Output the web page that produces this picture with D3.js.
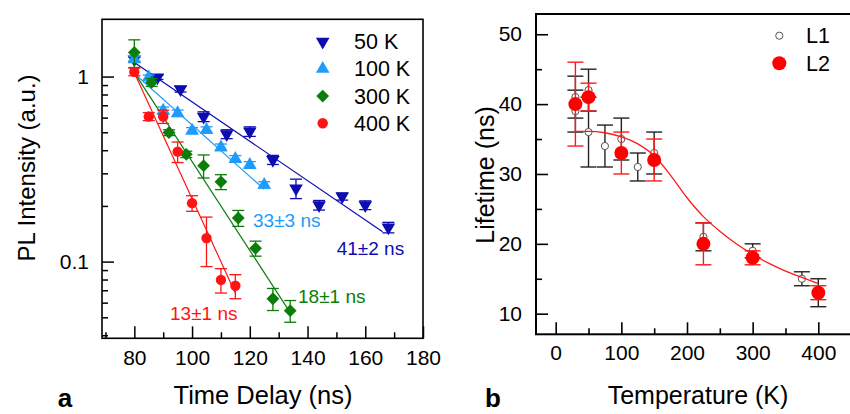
<!DOCTYPE html>
<html><head><meta charset="utf-8">
<script src="https://cdn.jsdelivr.net/npm/d3@7"></script>
<style>body{margin:0;background:#fff}svg{display:block;font-family:Arial,"Liberation Sans",sans-serif}</style>
</head><body><svg id="c" width="850" height="414"></svg>
<script>
// ---------- Panel a data ----------
const seriesNames = ["50 K", "100 K", "300 K", "400 K"];
const t50  = [80, 88, 96, 104, 112, 120, 128, 136, 144, 152, 160, 168];
const pl50 = [1.24, 0.99, 0.855, 0.608, 0.489, 0.505, 0.355, 0.249, 0.202, 0.225, 0.202, 0.153];
const e50  = [0.03, 0.025, 0.03, 0.037, 0.027, 0.03, 0.02, 0.03, 0.012, 0.01, 0.011, 0.01];
const t100  = [80, 85, 90, 95, 100, 105, 110, 115, 120, 125];
const pl100 = [1.24, 0.99, 0.655, 0.634, 0.51, 0.515, 0.415, 0.359, 0.333, 0.26];
const e100  = [0.04, 0.03, 0.03, 0.025, 0.02, 0.02, 0.017, 0.015, 0.014, 0.01];
const t300  = [80, 86, 92, 98, 104, 110, 116, 122, 128, 134];
const pl300 = [1.35, 0.93, 0.498, 0.38, 0.33, 0.27, 0.172, 0.118, 0.063, 0.0543];
const e300  = [0.23, 0.045, 0.018, 0.015, 0.047, 0.025, 0.017, 0.011, 0.0086, 0.0073];
const t400  = [80, 85, 90, 95, 100, 105, 110, 115];
const pl400 = [1.06, 0.608, 0.608, 0.393, 0.207, 0.134, 0.0796, 0.074];
const e400  = [0.05, 0.03, 0.05, 0.05, 0.02, 0.04, 0.012, 0.011];
// fitted decay lines: [start, end] points
const fitT  = [[80, 166], [80, 125], [80, 134.5], [80, 115]];
const fitPL = [[1.19, 0.145], [1.04, 0.246], [1.05, 0.0515], [1.05, 0.0675]];
const fitLabels = ["41\u00b12 ns", "33\u00b13 ns", "18\u00b11 ns", "13\u00b11 ns"];
const xTicksA = [80, 100, 120, 140, 160, 180];
const xMinorA = [70, 90, 110, 130, 150, 170];
const yTicksA = [0.1, 1];
const yMinorA = [0.04, 0.05, 0.06, 0.07, 0.08, 0.09, 0.2, 0.3, 0.4, 0.5, 0.6, 0.7, 0.8, 0.9];

// ---------- Panel b data ----------
const tempL1 = [30, 30, 50, 50, 75, 100, 125, 150, 225, 300, 375, 400];
const lifeL1 = [41, 39, 42, 36, 34, 35, 31, 33, 21, 19, 15, 13];
const errL1  = [3, 3, 3, 5, 3, 3, 2, 3, 2, 1, 1, 2];
const tempL2 = [30, 50, 100, 150, 225, 300, 400];
const lifeL2 = [40, 41, 33, 32, 20, 18, 13];
const errL2  = [6, 2, 3, 3, 3, 1, 1];
const fitTemp = [30, 50, 75, 100, 125, 150, 175, 200, 225, 250, 275, 300, 325, 350, 375, 400];
const fitLife = [36.1, 36.1, 35.9, 35.3, 34.3, 32.6, 29.8, 26.6, 23.9, 21.8, 20.0, 18.5, 17.2, 16.1, 15.2, 14.3];
const xTicksB = [0, 100, 200, 300, 400];
const xMinorB = [50, 150, 250, 350];
const yTicksB = [10, 20, 30, 40, 50];
const yMinorB = [15, 25, 35, 45];

const svg = d3.select("#c");
const colors = ["#0c0cb0", "#1e9cf8", "#0b7d0b", "#ff1414"];

// ================= Panel a =================
const xa = d3.scaleLinear().domain([68.8, 180]).range([102, 423]);
const ya = d3.scaleLog().domain([0.0385, 2.04]).range([338.3, 19.3]);
const ga = svg.append("g");

const axA = ga.append("g");
axA.append("g").attr("transform", `translate(0,${ya.range()[0]})`)
  .call(d3.axisBottom(xa).tickValues(xTicksA).tickSize(-12).tickPadding(12).tickFormat(d3.format("d")))
  .call(g => g.select(".domain").remove());
axA.append("g").attr("transform", `translate(0,${ya.range()[0]})`)
  .call(d3.axisBottom(xa).tickValues(xMinorA).tickSize(-6).tickFormat(""))
  .call(g => g.select(".domain").remove());
axA.append("g").attr("transform", `translate(${xa.range()[0]},0)`)
  .call(d3.axisLeft(ya).tickValues(yTicksA).tickSize(-12).tickPadding(13).tickFormat(d => d === 1 ? "1" : "0.1"))
  .call(g => g.select(".domain").remove());
axA.append("g").attr("transform", `translate(${xa.range()[0]},0)`)
  .call(d3.axisLeft(ya).tickValues(yMinorA).tickSize(-6).tickFormat(""))
  .call(g => g.select(".domain").remove());
axA.selectAll(".tick line").attr("stroke", "#000").attr("stroke-width", 1.5);
axA.selectAll(".tick text").attr("font-size", 21).attr("fill", "#000").attr("font-family", "Arial, Liberation Sans, sans-serif");

ga.append("rect").attr("x", xa.range()[0]).attr("y", ya.range()[1])
  .attr("width", xa.range()[1] - xa.range()[0]).attr("height", ya.range()[0] - ya.range()[1])
  .attr("fill", "none").attr("stroke", "#000").attr("stroke-width", 1.6);

const seriesA = [
  {t: t50, v: pl50, e: e50, sym: "down"},
  {t: t100, v: pl100, e: e100, sym: "up"},
  {t: t300, v: pl300, e: e300, sym: "diamond"},
  {t: t400, v: pl400, e: e400, sym: "circle"}
];
function symPath(kind) {
  if (kind === "circle") return d3.symbol().type(d3.symbolCircle).size(85)();
  if (kind === "diamond") return d3.symbol().type(d3.symbolSquare).size(82)();
  return d3.symbol().type(d3.symbolTriangle).size(80)();
}
function symTransform(kind, x, y) {
  if (kind === "down") return `translate(${x},${y}) rotate(180)`;
  if (kind === "diamond") return `translate(${x},${y}) rotate(45)`;
  return `translate(${x},${y})`;
}
fitT.forEach((ts, i) => {
  const pts = ts.map((t, j) => [xa(t), ya(fitPL[i][j])]);
  ga.append("path").attr("d", d3.line()(pts)).attr("stroke", colors[i]).attr("stroke-width", 1.2).attr("fill", "none");
});
seriesA.forEach((s, i) => {
  const g = ga.append("g");
  s.t.forEach((t, j) => {
    const x = xa(t), y1 = ya(s.v[j] + s.e[j]), y2 = ya(Math.max(s.v[j] - s.e[j], 0.001));
    g.append("line").attr("x1", x).attr("x2", x).attr("y1", y1).attr("y2", y2).attr("stroke", colors[i]).attr("stroke-width", 1.3);
    [y1, y2].forEach(yy => g.append("line").attr("x1", x - 6).attr("x2", x + 6).attr("y1", yy).attr("y2", yy).attr("stroke", colors[i]).attr("stroke-width", 1.3));
  });
  s.t.forEach((t, j) => {
    g.append("path").attr("d", symPath(s.sym)).attr("transform", symTransform(s.sym, xa(t), ya(s.v[j]))).attr("fill", colors[i]);
  });
});
const labelPos = [[336.7, 248.3], [253, 220], [298, 296], [170, 313.3]];
fitLabels.forEach((txt, i) => {
  ga.append("text").attr("x", labelPos[i][0]).attr("y", labelPos[i][1]).attr("dy", "0.35em")
    .attr("font-size", 19).attr("fill", colors[i]).text(txt);
});
const legSym = ["down", "up", "diamond", "circle"];
seriesNames.forEach((n, i) => {
  const y = 41.7 + i * 27.2;
  ga.append("path").attr("d", symPath(legSym[i])).attr("transform", symTransform(legSym[i], 322.7, y)).attr("fill", colors[i]);
  ga.append("text").attr("x", 354).attr("y", y).attr("dy", "0.35em").attr("font-size", 21.5).attr("fill", "#000").text(n);
});
ga.append("text").attr("x", 263).attr("y", 395).attr("dy", "0.35em").attr("text-anchor", "middle").attr("font-size", 25.5).text("Time Delay (ns)");
ga.append("text").attr("transform", "translate(27,168) rotate(-90)").attr("dy", "0.35em").attr("text-anchor", "middle").attr("font-size", 24).text("PL Intensity (a.u.)");
ga.append("text").attr("x", 65).attr("y", 398).attr("dy", "0.35em").attr("text-anchor", "middle").attr("font-size", 26).attr("font-weight", "bold").text("a");

// ================= Panel b =================
const xb = d3.scaleLinear().domain([-30, 463.5]).range([536, 860]);
const yb = d3.scaleLinear().domain([7.05, 52.9]).range([334.3, 14]);
const gb = svg.append("g");
const axB = gb.append("g");
axB.append("g").attr("transform", `translate(0,${yb.range()[0]})`)
  .call(d3.axisBottom(xb).tickValues(xTicksB).tickSize(-12).tickPadding(11).tickFormat(d3.format("d")))
  .call(g => g.select(".domain").remove());
axB.append("g").attr("transform", `translate(0,${yb.range()[0]})`)
  .call(d3.axisBottom(xb).tickValues(xMinorB).tickSize(-6).tickFormat(""))
  .call(g => g.select(".domain").remove());
axB.append("g").attr("transform", `translate(${xb.range()[0]},0)`)
  .call(d3.axisLeft(yb).tickValues(yTicksB).tickSize(-12).tickPadding(14).tickFormat(d3.format("d")))
  .call(g => g.select(".domain").remove());
axB.append("g").attr("transform", `translate(${xb.range()[0]},0)`)
  .call(d3.axisLeft(yb).tickValues(yMinorB).tickSize(-6).tickFormat(""))
  .call(g => g.select(".domain").remove());
axB.selectAll(".tick line").attr("stroke", "#000").attr("stroke-width", 1.6);
axB.selectAll(".tick text").attr("font-size", 21).attr("fill", "#000").attr("font-family", "Arial, Liberation Sans, sans-serif");
gb.append("rect").attr("x", xb.range()[0]).attr("y", yb.range()[1])
  .attr("width", xb.range()[1] - xb.range()[0]).attr("height", yb.range()[0] - yb.range()[1])
  .attr("fill", "none").attr("stroke", "#000").attr("stroke-width", 2);

function errBars(g, ts, vs, es, color, cap) {
  ts.forEach((t, j) => {
    const x = xb(t), y1 = yb(vs[j] + es[j]), y2 = yb(vs[j] - es[j]);
    g.append("line").attr("x1", x).attr("x2", x).attr("y1", y1).attr("y2", y2).attr("stroke", color).attr("stroke-width", 1.4);
    [y1, y2].forEach(yy => g.append("line").attr("x1", x - cap).attr("x2", x + cap).attr("y1", yy).attr("y2", yy).attr("stroke", color).attr("stroke-width", 1.4));
  });
}
errBars(gb, tempL1, lifeL1, errL1, "#222", 8);
tempL1.forEach((t, j) => gb.append("circle").attr("cx", xb(t)).attr("cy", yb(lifeL1[j])).attr("r", 3.6)
  .attr("fill", "#fff").attr("stroke", "#555").attr("stroke-width", 1));
errBars(gb, tempL2, lifeL2, errL2, "#ff1a1a", 8);
gb.append("path").attr("d", d3.line().curve(d3.curveMonotoneX)(fitTemp.map((t, j) => [xb(t), yb(fitLife[j])])))
  .attr("fill", "none").attr("stroke", "#ff1a1a").attr("stroke-width", 1.3);
tempL2.forEach((t, j) => gb.append("circle").attr("cx", xb(t)).attr("cy", yb(lifeL2[j])).attr("r", 7).attr("fill", "#ff0000"));

gb.append("circle").attr("cx", 779.3).attr("cy", 35.7).attr("r", 3.6).attr("fill", "#fff").attr("stroke", "#555");
gb.append("text").attr("x", 806).attr("y", 35.7).attr("dy", "0.35em").attr("font-size", 21.5).text("L1");
gb.append("circle").attr("cx", 779.3).attr("cy", 63.3).attr("r", 7).attr("fill", "#ff0000");
gb.append("text").attr("x", 806).attr("y", 63.3).attr("dy", "0.35em").attr("font-size", 21.5).text("L2");
gb.append("text").attr("x", 698).attr("y", 395).attr("dy", "0.35em").attr("text-anchor", "middle").attr("font-size", 25).text("Temperature (K)");
gb.append("text").attr("transform", "translate(485,175) rotate(-90)").attr("dy", "0.35em").attr("text-anchor", "middle").attr("font-size", 25).text("Lifetime (ns)");
gb.append("text").attr("x", 493).attr("y", 398).attr("dy", "0.35em").attr("text-anchor", "middle").attr("font-size", 26).attr("font-weight", "bold").text("b");
</script></body></html>
